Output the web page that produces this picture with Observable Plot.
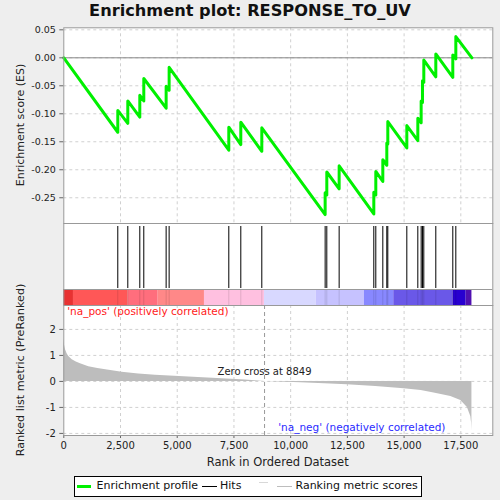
<!DOCTYPE html>
<html>
<head>
<meta charset="utf-8">
<script src="https://cdn.jsdelivr.net/npm/d3@7"></script>
<script src="https://cdn.jsdelivr.net/npm/@observablehq/plot@0.6"></script>
<style>
  html, body { margin: 0; padding: 0; background: #eeeeee; }
  #root { position: relative; width: 500px; height: 500px; background: #eeeeee; font-family: "DejaVu Sans", sans-serif; overflow: hidden; }
  .abs { position: absolute; }
  .lbl { position: absolute; white-space: nowrap; color: #222; }
</style>
</head>
<body>
<div id="root"></div>
<script>
// ---------------- data ----------------
const title = "Enrichment plot: RESPONSE_TO_UV";
const totalRanks = 17990;
const zeroCross = 8849;
// gene-set hits (rank positions)
const hitRanks = [2380, 2821, 3350, 3526, 4511, 4643, 7273, 7802, 8728, 11520, 11593, 12137,
                  13665, 13753, 14062, 14238, 14282, 15120, 15605, 15752, 15810, 15869, 16398, 17147, 17280];
// running enrichment score just before and just after each hit
const esBefore = [-0.133, -0.117, -0.106, -0.077, -0.090, -0.058, -0.165, -0.155, -0.167, -0.280, -0.245, -0.234,
                  -0.279, -0.245, -0.221, -0.192, -0.154, -0.161, -0.148, -0.116, -0.080, -0.044, -0.034, -0.035, -0.002];
const esAfter  = [-0.094, -0.077, -0.067, -0.037, -0.051, -0.017, -0.124, -0.115, -0.125, -0.241, -0.204, -0.193,
                  -0.240, -0.203, -0.182, -0.152, -0.114, -0.121, -0.108, -0.077, -0.041, -0.004, 0.007, 0.005, 0.038];
const esStart = 0, esEnd = 0;
// ranked list metric
const metricRanks  = [0, 30, 75, 150, 220, 370, 550, 735, 1100, 1500, 1850, 2570, 3300, 4040, 5510, 6980, 8000, 8849,
                      10450, 11500, 12500, 13750, 15000, 15750, 16320, 17060, 17500, 17790, 17940, 17975, 17990];
const metricValues = [1.63, 1.40, 1.22, 1.05, 0.96, 0.83, 0.75, 0.68, 0.56, 0.50, 0.45, 0.35, 0.29, 0.24, 0.17, 0.10, 0.05, 0.0,
                      -0.05, -0.09, -0.13, -0.20, -0.28, -0.35, -0.45, -0.58, -0.73, -1.00, -1.35, -1.60, -1.90];
// colour bar segments
const barStarts = [0, 426, 2837, 4160, 6200, 8845, 11124, 13253, 14545, 17163, 17736];
const barEnds   = [426, 2837, 4160, 6200, 8845, 11124, 13253, 14545, 17163, 17736, 17990];
const barColors = ["#e83232", "#ff5757", "#ff6e7d", "#ff8888", "#ffc0e0", "#d8d8ff", "#c6c2ff", "#8888ff", "#6a58e8", "#2800d0", "#5010b0"];
// ticks
const rankTicks = [0, 2500, 5000, 7500, 10000, 12500, 15000, 17500];
const esTicks = [-0.25, -0.2, -0.15, -0.1, -0.05, 0, 0.05];
const metricTicks = [-2, -1, 0, 1, 2];

// ---------------- tables ----------------
const esData = [{rank: 0, es: esStart}];
hitRanks.forEach((r, i) => { esData.push({rank: r, es: esBefore[i]}); esData.push({rank: r, es: esAfter[i]}); });
esData.push({rank: totalRanks, es: esEnd});
const metricData = metricRanks.map((r, i) => ({rank: r, value: metricValues[i]}));
const bars = barStarts.map((s, i) => ({x1: s, x2: barEnds[i], color: barColors[i]}));

const root = document.getElementById("root");
const xDomain = [0, 18910];
const ML = 63.3, MR = 7.7;
const font = "DejaVu Sans";
const gridStyle = {stroke: "#d0d0d0", strokeOpacity: 1, strokeDasharray: "3,3"};

function place(el, top) {
  el.style.position = "absolute"; el.style.left = "0px"; el.style.top = top + "px";
  root.appendChild(el);
}

// ---------- ES panel ----------
const pA = Plot.plot({
  width: 500, height: 223, marginTop: 27.3, marginBottom: 0, marginLeft: ML, marginRight: MR,
  style: {background: "transparent", fontFamily: font, fontSize: "9px", color: "#222", overflow: "visible"},
  x: {domain: xDomain, axis: null},
  y: {domain: [-0.296, 0.0536], axis: null},
  marks: [
    Plot.frame({fill: "white", stroke: "none"}),
    Plot.gridX(rankTicks.slice(1), gridStyle),
    Plot.gridY(esTicks, gridStyle),
    Plot.ruleY([0], {stroke: "#888", strokeWidth: 1}),
    Plot.line(esData, {x: "rank", y: "es", stroke: "#00f000", strokeWidth: 3}),
    Plot.axisY(esTicks, {tickFormat: d => d.toFixed(2), tickSize: 4, tickPadding: 4, label: null, fontSize: 9.5, stroke: "#666"}),
    Plot.frame({stroke: "#999"})
  ]
});
place(pA, 0);

// ---------- hits + colour bar ----------
const pB = Plot.plot({
  width: 500, height: 82, marginTop: 0, marginBottom: 0, marginLeft: ML, marginRight: MR,
  style: {background: "transparent", fontFamily: font, overflow: "visible"},
  x: {domain: xDomain, axis: null},
  y: {domain: [0, 82], axis: null},
  marks: [
    Plot.frame({fill: "white", stroke: "none"}),
    Plot.ruleX(hitRanks, {y1: 17, y2: 79, stroke: "black", strokeWidth: 1}),
    Plot.rect(bars, {x1: "x1", x2: "x2", y1: 0, y2: 16, fill: "color"}),
    Plot.ruleX(hitRanks, {y1: 0, y2: 16, stroke: "black", strokeOpacity: 0.12}),
    Plot.ruleY([16], {stroke: "#999"}),
    Plot.frame({stroke: "#999"})
  ]
});
place(pB, 223);

// ---------- ranked metric panel ----------
const pC = Plot.plot({
  width: 500, height: 195, marginTop: 0, marginBottom: 65, marginLeft: ML, marginRight: MR,
  style: {background: "transparent", fontFamily: font, fontSize: "9.5px", color: "#222", overflow: "visible"},
  x: {domain: xDomain, axis: null},
  y: {domain: [-2.08, 2.92], axis: null},
  marks: [
    Plot.frame({fill: "white", stroke: "none"}),
    Plot.gridX(rankTicks.slice(1), gridStyle),
    Plot.gridY(metricTicks, gridStyle),
    Plot.areaY(metricData, {x: "rank", y: "value", fill: "#bdbdbd"}),
    Plot.ruleX([zeroCross], {stroke: "#999", strokeDasharray: "4,3"}),
    Plot.text(["Zero cross at " + zeroCross], {x: zeroCross, y: 0.38, fill: "#222", fontSize: 10, textAnchor: "middle"}),
    Plot.text(["'na_pos' (positively correlated)"], {x: 150, y: 2.67, fill: "#ff1a1a", fontSize: 10.5, textAnchor: "start"}),
    Plot.text(["'na_neg' (negatively correlated)"], {x: 9450, y: -1.78, fill: "#2a2aff", fontSize: 10.5, textAnchor: "start"}),
    Plot.axisY(metricTicks, {tickFormat: d => String(d), tickSize: 4, tickPadding: 4, label: null, fontSize: 10, stroke: "#666"}),
    Plot.axisX(rankTicks, {tickFormat: d3.format(","), tickSize: 3, tickPadding: 3, label: null, fontSize: 10, stroke: "#666"}),
    Plot.frame({stroke: "#999"})
  ]
});
place(pC, 305);

// ---------- text ----------
function label(text, css) {
  const d = document.createElement("div");
  d.className = "lbl"; d.textContent = text;
  Object.assign(d.style, css);
  root.appendChild(d);
  return d;
}
label(title, {left: "0px", width: "500px", textAlign: "center", top: "1px", fontSize: "16.2px", fontWeight: "bold", color: "#111"});
label("Enrichment score (ES)", {left: "20px", top: "125px", fontSize: "11px", transform: "translate(-50%,-50%) rotate(-90deg)"});
label("Ranked list metric (PreRanked)", {left: "20px", top: "370px", fontSize: "11.2px", transform: "translate(-50%,-50%) rotate(-90deg)"});
label("Rank in Ordered Dataset", {left: "277.7px", top: "461.5px", fontSize: "11.5px", transform: "translate(-50%,-50%)"});

// ---------- legend ----------
const lg = document.createElement("div");
Object.assign(lg.style, {position: "absolute", left: "74px", top: "476px", width: "346px", height: "19px",
  border: "1px solid #000", background: "white"});
root.appendChild(lg);
function seg(x1, x2, y, color, w) {
  const d = document.createElement("div");
  Object.assign(d.style, {position: "absolute", left: (x1 - 75) + "px", width: (x2 - x1) + "px",
    top: (y - 477 - w / 2) + "px", height: w + "px", background: color});
  lg.appendChild(d);
}
function ltxt(x, text) {
  const d = document.createElement("div");
  Object.assign(d.style, {position: "absolute", left: (x - 75) + "px", top: "2px", fontSize: "11px",
    whiteSpace: "nowrap", color: "#111", lineHeight: "14px"});
  d.textContent = text;
  lg.appendChild(d);
}
seg(77, 91, 486.5, "#00f000", 2.5);
ltxt(96.5, "Enrichment profile");
seg(202, 217, 486.5, "#000", 1);
ltxt(220, "Hits");
seg(259, 268, 482, "#d8d8d8", 1);
seg(277, 292, 486.5, "#bdbdbd", 1);
ltxt(295.5, "Ranking metric scores");
</script>
</body>
</html>
